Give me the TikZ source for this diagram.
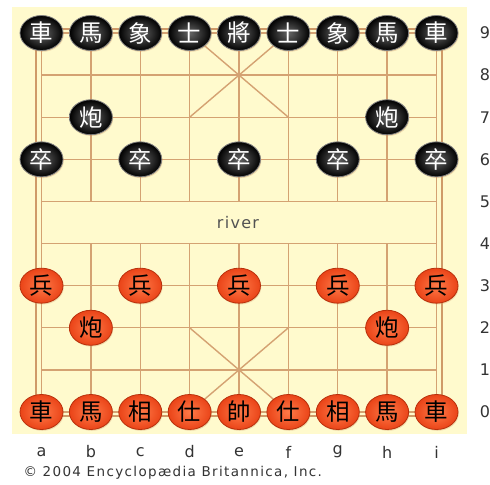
\documentclass[tikz,border=0pt]{standalone}
\usepackage{fontspec}
\setsansfont{DejaVu Sans}
\newfontfamily\cjk{Noto Sans CJK TC}
\usetikzlibrary{shapes.geometric,shadows}
\definecolor{board}{HTML}{FFFACD}
\definecolor{lines}{HTML}{D4A272}
\definecolor{frame}{HTML}{CF9A68}
\definecolor{redpc}{HTML}{EA4418}
\definecolor{redlight}{HTML}{FF7A48}
\definecolor{rededge}{HTML}{B8300C}
\definecolor{ink}{HTML}{333333}

\begin{document}
\begin{tikzpicture}[x=49.375pt,y=42.11pt,font=\sffamily,
  piece/.style={ellipse,minimum width=43pt,minimum height=35pt,inner sep=0pt,line width=0.8pt,
    font=\cjk\fontsize{23.5}{23.5}\selectfont,
    drop shadow={opacity=0.35,fill=frame,shadow xshift=0.8pt,shadow yshift=-1.3pt}},
  blackpc/.style={piece,shading=radial,inner color=black!60,outer color=black,draw=black!50,text=white},
  redpc/.style={piece,shading=radial,inner color=redlight,outer color=redpc,draw=rededge,text=black},
  gridln/.style={lines,line width=1.4pt},
  lbl/.style={text=ink,font=\sffamily\fontsize{16}{16}\selectfont}]
  \useasboundingbox (-0.8405,-1.710) rectangle (9.0835,9.784);

  % ===== board =====
  \fill[board] (-0.597,-0.522) rectangle (8.618,9.618);
  \draw[frame,line width=2.4pt] (-0.111,-0.1) rectangle (8.111,9.1);
  \foreach \r in {0,...,9} \draw[gridln] (0,\r) -- (8,\r);
  \draw[gridln] (0,0) -- (0,9);
  \draw[gridln] (8,0) -- (8,9);
  \foreach \f in {1,...,7} {
    \draw[gridln] (\f,0) -- (\f,4);
    \draw[gridln] (\f,5) -- (\f,9);
  }
  % palaces
  \draw[gridln] (3,0) -- (5,2) (5,0) -- (3,2);
  \draw[gridln] (3,7) -- (5,9) (5,7) -- (3,9);
  \node[text=ink!85,font=\sffamily\fontsize{16}{16}\selectfont\addfontfeature{LetterSpace=8}] (river) at (3.98,4.5) {river};

  % ===== black side =====
  \foreach \ch [count=\i from 0] in {車,馬,象,士,將,士,象,馬,車}
    \node[blackpc] (black-\i-9) at (\i,9) {\ch};
  \node[blackpc] (black-1-7) at (1,7) {炮};
  \node[blackpc] (black-7-7) at (7,7) {炮};
  \foreach \i in {0,2,4,6,8}
    \node[blackpc] (black-\i-6) at (\i,6) {卒};

  % ===== red side =====
  \foreach \ch [count=\i from 0] in {車,馬,相,仕,帥,仕,相,馬,車}
    \node[redpc] (red-\i-0) at (\i,0) {\ch};
  \node[redpc] (red-1-2) at (1,2) {炮};
  \node[redpc] (red-7-2) at (7,2) {炮};
  \foreach \i in {0,2,4,6,8}
    \node[redpc] (red-\i-3) at (\i,3) {兵};

  % ===== coordinates =====
  \foreach \l [count=\i from 0] in {a,b,c,d,e,f,g,h,i}
    \node[lbl] (file-\l) at (\i,-0.95) {\l};
  \foreach \r in {0,...,9}
    \node[lbl] (rank-\r) at (8.98,\r) {\r};
  \node[lbl,anchor=west,font=\sffamily\fontsize{13.5}{13.5}\selectfont\addfontfeature{LetterSpace=10}] (credit) at (-0.435,-1.449) {© 2004 Encyclopædia Britannica, Inc.};
\end{tikzpicture}
\end{document}
